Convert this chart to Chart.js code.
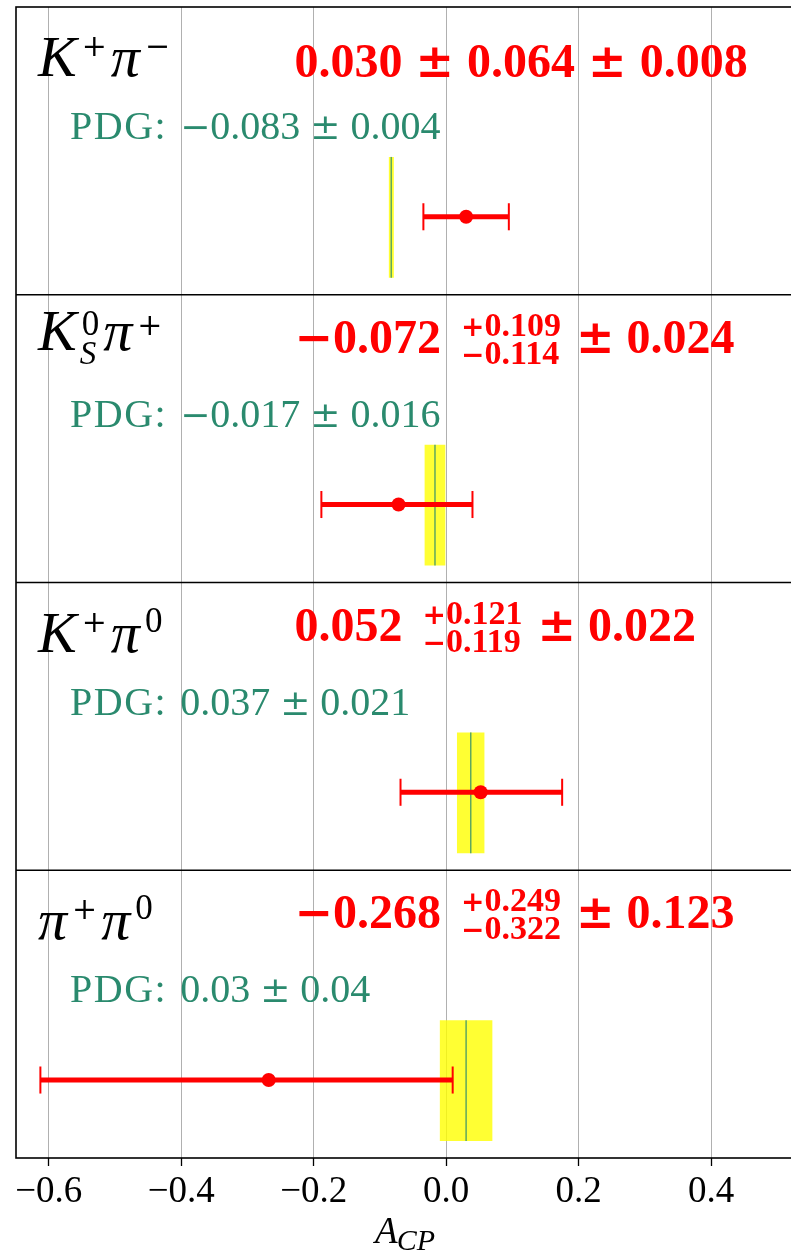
<!DOCTYPE html>
<html>
<head>
<meta charset="utf-8">
<title>A_CP summary</title>
<script src="https://cdn.jsdelivr.net/npm/chart.js@4.4.0/dist/chart.umd.min.js"></script>
<style>
  html, body { margin: 0; padding: 0; background: #fff; overflow: hidden; }
  #wrap { width: 791px; height: 1255px; overflow: hidden; }
  canvas { display: block; }
</style>
</head>
<body>
<div id="wrap"><canvas id="acp" width="802" height="1255" style="width:802px;height:1255px"></canvas></div>
<script>
// decay channels, top panel first: [symbol, superscript, subscript]
const channels = [
  [['K', '+'], ['\u03c0', '\u2212']],
  [['K', '0', 'S'], ['\u03c0', '+']],
  [['K', '+'], ['\u03c0', '0']],
  [['\u03c0', '+'], ['\u03c0', '0']]
];

// measured asymmetries
const central = [0.030, -0.072, 0.052, -0.268];
const statUp = [0.064, 0.109, 0.121, 0.249];
const statDown = [0.064, 0.114, 0.119, 0.322];
const syst = [0.008, 0.024, 0.022, 0.123];

// world averages
const pdgValue = [-0.083, -0.017, 0.037, 0.03];
const pdgError = [0.004, 0.016, 0.021, 0.04];
const pdgDecimals = [3, 3, 3, 2];

const xTicks = [-0.6, -0.4, -0.2, 0.0, 0.2, 0.4];

const RED = '#ff0000';
const TEAL = '#2a8a6e';
const SERIF = '"Liberation Serif", "DejaVu Serif", serif';
const SYM = '"DejaVu Serif", serif';   // wider +, − and ± glyphs

// vertical layout inside one panel (fraction of the panel height, from its bottom)
const POINT_Y = 0.271;
const BAND_LOW = 0.059;
const BAND_HIGH = 0.479;
const CAP = 0.047;

const nPanels = channels.length;
const baseOf = i => nPanels - 1 - i;
const total = (a, b) => Math.sqrt(a * a + b * b);

const datasets = [];
channels.forEach((ch, i) => {
  const base = baseOf(i);
  const pLo = pdgValue[i] - pdgError[i];
  const pHi = pdgValue[i] + pdgError[i];
  const lo = central[i] - total(statDown[i], syst[i]);
  const hi = central[i] + total(statUp[i], syst[i]);
  const py = base + POINT_Y;

  // PDG band: lower edge, then upper edge filled down to it
  datasets.push({
    data: [{ x: pLo, y: base + BAND_LOW }, { x: pHi, y: base + BAND_LOW }],
    borderWidth: 0, borderColor: 'rgba(0,0,0,0)', pointRadius: 0, order: 6
  });
  datasets.push({
    data: [{ x: pLo, y: base + BAND_HIGH }, { x: pHi, y: base + BAND_HIGH }],
    borderWidth: 0, borderColor: 'rgba(0,0,0,0)', pointRadius: 0,
    fill: '-1', backgroundColor: 'rgba(255,255,0,0.8)', order: 6
  });
  // PDG central value
  datasets.push({
    data: [{ x: pdgValue[i], y: base + BAND_LOW }, { x: pdgValue[i], y: base + BAND_HIGH }],
    borderColor: 'rgba(42,138,110,0.75)', borderWidth: 1.5, pointRadius: 0, order: 5
  });
  // total error bar with caps
  datasets.push({
    data: [{ x: lo, y: py }, { x: hi, y: py }],
    borderColor: RED, borderWidth: 5, pointRadius: 0, order: 3
  });
  [lo, hi].forEach(xc => datasets.push({
    data: [{ x: xc, y: py - CAP }, { x: xc, y: py + CAP }],
    borderColor: RED, borderWidth: 2, pointRadius: 0, order: 3
  }));
  // measured value
  datasets.push({
    data: [{ x: central[i], y: py }],
    showLine: false, pointRadius: 7, pointBackgroundColor: RED,
    pointBorderColor: RED, pointBorderWidth: 0, order: 1
  });
});

// draws [text, font, gapAfter, spacing] pieces one after another, returns the end x
function run(ctx, x, y, pieces) {
  pieces.forEach(([txt, font, gap, spacing]) => {
    ctx.font = font;
    ctx.letterSpacing = spacing || '0px';
    ctx.fillText(txt, x, y);
    x += ctx.measureText(txt).width + (gap || 0);
  });
  ctx.letterSpacing = '0px';
  return x;
}

// splits a signed number so the sign can use the wider symbol font
function signed(v, d, numFont, symFont, gap) {
  const out = [];
  if (v < 0) out.push(['\u2212', symFont, 0]);
  out.push([Math.abs(v).toFixed(d), numFont, gap]);
  return out;
}

function drawChannel(ctx, parts, x, baseline) {
  const hasSub = parts.some(p => p[2]);
  parts.forEach(([sym, sup, sub]) => {
    ctx.font = 'italic 58px ' + SERIF;
    ctx.fillText(sym, x, baseline);
    x += ctx.measureText(sym).width + 5;
    let w = 0;
    if (sup) {
      const isDigit = /[0-9]/.test(sup);
      ctx.font = isDigit ? '35px ' + SERIF : '30px ' + SYM;
      ctx.fillText(sup, x, baseline - (hasSub ? 15 : 20));
      w = ctx.measureText(sup).width;
    }
    if (sub) {
      ctx.font = 'italic 33px ' + SERIF;
      ctx.fillText(sub, x - 2, baseline + 14);
      w = Math.max(w, ctx.measureText(sub).width - 2);
    }
    x += w + 4;
  });
}

function drawResult(ctx, i, x, top) {
  const big = 'bold 48px ' + SERIF;
  const bigSym = 'bold 46px ' + SYM;
  const small = 'bold 34px ' + SERIF;
  const smallSym = 'bold 28px ' + SYM;
  ctx.fillStyle = RED;
  if (statUp[i] === statDown[i]) {
    const y = top + 69.5;
    run(ctx, x, y, [
      ...signed(central[i], 3, big, bigSym, 13),
      ['\u00b1', bigSym, 13],
      [statUp[i].toFixed(3), big, 13],
      ['\u00b1', bigSym, 13],
      [syst[i].toFixed(3), big, 0]
    ]);
  } else {
    const y = top + 58;
    x = run(ctx, x, y, signed(central[i], 3, big, bigSym, 20));
    const e1 = run(ctx, x, top + 41, [['+', smallSym, 0], [statUp[i].toFixed(3), small, 0]]);
    const e2 = run(ctx, x, top + 69, [['\u2212', smallSym, 0], [statDown[i].toFixed(3), small, 0]]);
    x = Math.max(e1, e2) + 15;
    run(ctx, x, y, [['\u00b1', bigSym, 12], [syst[i].toFixed(3), big, 0]]);
  }
}

function drawPdg(ctx, i, x, y) {
  const txt = '40px ' + SERIF;
  const sym = '36px ' + SYM;
  ctx.fillStyle = TEAL;
  run(ctx, x, y, [
    ['PDG:', txt, 13, '1.5px'],
    ...signed(pdgValue[i], pdgDecimals[i], txt, sym, 10),
    ['\u00b1', sym, 10],
    [pdgError[i].toFixed(pdgDecimals[i]), txt, 0]
  ]);
}

const panelDecor = {
  id: 'panelDecor',
  afterDraw(chart) {
    const { ctx, chartArea: a, scales: { x, y } } = chart;
    ctx.save();
    // frames and panel separators
    ctx.strokeStyle = '#000';
    ctx.lineWidth = 1.6;
    ctx.strokeRect(a.left, a.top, a.right - a.left, a.bottom - a.top);
    for (let k = 1; k < nPanels; k++) {
      const yy = y.getPixelForValue(k);
      ctx.beginPath();
      ctx.moveTo(a.left, yy);
      ctx.lineTo(a.right, yy);
      ctx.stroke();
    }
    ctx.textBaseline = 'alphabetic';
    ctx.textAlign = 'left';
    channels.forEach((parts, i) => {
      const top = y.getPixelForValue(baseOf(i) + 1);
      const hasSub = parts.some(p => p[2]);
      ctx.fillStyle = '#000';
      drawChannel(ctx, parts, a.left + 22, top + (hasSub ? 55 : 69));
      drawResult(ctx, i, x.getPixelForValue(-0.229), top);
      drawPdg(ctx, i, a.left + 54, top + 132);
    });
    // axis title A_CP
    const cx = (a.left + a.right) / 2;
    const fA = 'italic 37px ' + SERIF;
    const fS = 'italic 30px ' + SERIF;
    ctx.fillStyle = '#000';
    ctx.font = fA;
    const wA = ctx.measureText('A').width;
    ctx.font = fS;
    const wS = ctx.measureText('CP').width;
    const tx = cx - (wA + wS) / 2;
    ctx.font = fA;
    ctx.fillText('A', tx, 1243);
    ctx.font = fS;
    ctx.fillText('CP', tx + wA - 1, 1250);
    ctx.restore();
  }
};

new Chart(document.getElementById('acp'), {
  type: 'line',
  data: { datasets },
  options: {
    responsive: false,
    animation: false,
    events: [],
    layout: { padding: { top: 5, left: 16, right: 1, bottom: 0 } },
    elements: { line: { tension: 0 } },
    plugins: { legend: { display: false }, tooltip: { enabled: false } },
    scales: {
      x: {
        type: 'linear',
        min: -0.6495,
        max: 0.5265,
        border: { display: false },
        grid: { color: '#b0b0b0', lineWidth: 1, tickLength: 8, tickColor: '#000', tickWidth: 1.3 },
        afterBuildTicks: scale => { scale.ticks = xTicks.map(v => ({ value: v })); },
        afterFit: scale => { scale.height = 97; },
        ticks: {
          autoSkip: false,
          maxRotation: 0,
          padding: 4,
          color: '#000',
          font: { family: SERIF, size: 37 },
          callback: v => (v < 0 ? '\u2212' : '') + Math.abs(v).toFixed(1)
        }
      },
      y: { type: 'linear', min: 0, max: nPanels, display: false }
    }
  },
  plugins: [panelDecor]
});
</script>
</body>
</html>
